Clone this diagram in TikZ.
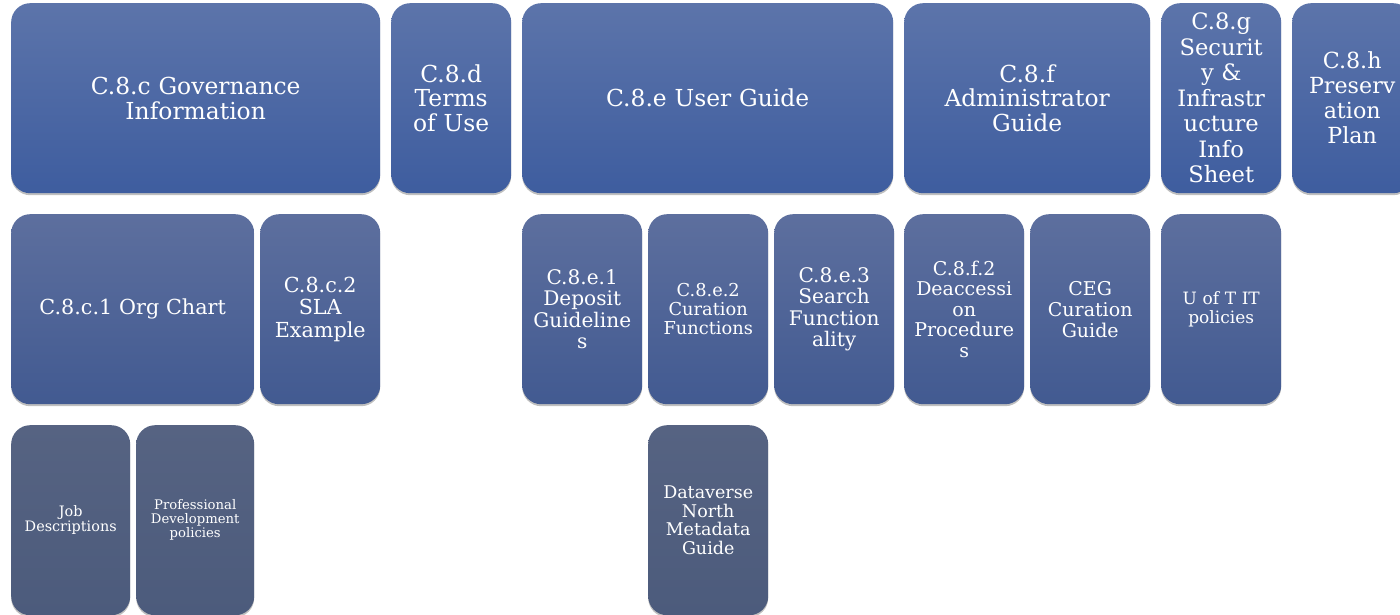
\documentclass[tikz,border=0pt]{standalone}
\usepackage{fontspec}
\setmainfont{DejaVu Serif}
\usetikzlibrary{shadows}
\definecolor{aTop}{RGB}{92,116,170}
\definecolor{aBot}{RGB}{62,93,159}
\definecolor{bTop}{RGB}{93,111,158}
\definecolor{bBot}{RGB}{66,90,145}
\definecolor{cTop}{RGB}{86,99,130}
\definecolor{cBot}{RGB}{76,91,124}
\tikzset{
  boxbase/.style={rectangle, rounded corners=19pt, anchor=north west, inner sep=2pt,
    text=white, align=center, minimum height=190pt,
    drop shadow={shadow xshift=0pt, shadow yshift=-2pt, opacity=0.25, fill=black}},
  lvla/.style={boxbase, top color=aTop, bottom color=aBot},
  lvlb/.style={boxbase, top color=bTop, bottom color=bBot},
  lvlc/.style={boxbase, top color=cTop, bottom color=cBot},
  wd/.style={minimum width=#1pt, text width=#1pt-6pt},
  fa/.style={font=\fontsize{23.4}{24.8}\selectfont},
  fb/.style={font=\fontsize{20.7}{22.5}\selectfont},
  fbe/.style={font=\fontsize{20.1}{21.5}\selectfont},
}
\begin{document}
\begin{tikzpicture}[x=1pt,y=-1pt]
\useasboundingbox (0,0) rectangle (1400,615);
\fill[white] (0,0) rectangle (1400,615);
\clip (0,0) rectangle (1400,615);
% row 1
\node[lvla, fa, wd=369] (c8c) at (11,3) {C.8.c Governance\\Information};
\node[lvla, fa, wd=120] (c8d) at (391,3) {C.8.d\\Terms\\of Use};
\node[lvla, fa, wd=371] (c8e) at (522,3) {C.8.e User Guide};
\node[lvla, fa, wd=246] (c8f) at (904,3) {C.8.f\\Administrator\\Guide};
\node[lvla, font=\fontsize{22.6}{25.5}\selectfont, wd=120] (c8g) at (1161,3) {C.8.g\\Securit\\y \&\\Infrastr\\ucture\\Info\\Sheet};
\node[lvla, font=\fontsize{22.2}{25}\selectfont, wd=120] (c8h) at (1292,3) {C.8.h\\Preserv\\ation\\Plan};
% row 2
\node[lvlb, fb, wd=243] (c8c1) at (11,214) {C.8.c.1 Org Chart};
\node[lvlb, fb, wd=120] (c8c2) at (260,214) {C.8.c.2\\SLA\\Example};
\node[lvlb, fbe, wd=120] (c8e1) at (522,214) {C.8.e.1\\Deposit\\Guideline\\s};
\node[lvlb, font=\fontsize{17.8}{19}\selectfont, wd=120] (c8e2) at (648,214) {C.8.e.2\\Curation\\Functions};
\node[lvlb, fbe, wd=120] (c8e3) at (774,214) {C.8.e.3\\Search\\Function\\ality};
\node[lvlb, font=\fontsize{19}{20.5}\selectfont, wd=120] (c8f2) at (904,214) {C.8.f.2\\Deaccessi\\on\\Procedure\\s};
\node[lvlb, font=\fontsize{19}{21}\selectfont, wd=120] (ceg) at (1030,214) {CEG\\Curation\\Guide};
\node[lvlb, font=\fontsize{17}{18.5}\selectfont, wd=120] (uoft) at (1161,214) {U of T IT\\policies};
% row 3
\node[lvlc, font=\fontsize{14.4}{14.5}\selectfont, wd=119] (job) at (11,425) {Job\\Descriptions};
\node[lvlc, font=\fontsize{13.2}{14}\selectfont, wd=118] (prof) at (136,425) {Professional\\Development\\policies};
\node[lvlc, font=\fontsize{17.5}{18.5}\selectfont, wd=120] (dvn) at (648,425) {Dataverse\\North\\Metadata\\Guide};
\end{tikzpicture}
\end{document}
